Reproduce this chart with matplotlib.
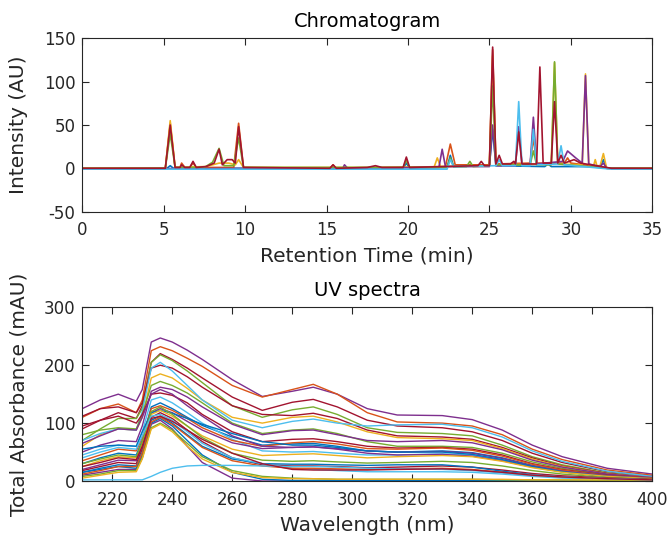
import numpy as np
import matplotlib
matplotlib.use('Agg')
import matplotlib.pyplot as plt

plt.rcParams['axes.unicode_minus'] = False

# Colores por defecto de MATLAB
MATLAB = ['#0072BD', '#D95319', '#EDB120', '#7E2F8E',
          '#77AC30', '#4DBEEE', '#A2142F']

# =============================================================================
# Cromatogramas (tiempo en min, intensidad en AU)
# =============================================================================
t_blue = [0, 5.2, 5.4, 5.6, 19.7, 19.9, 20.1, 22.4, 22.6, 22.8, 25.0, 25.2,
          25.4, 28.4, 28.6, 28.8, 31.8, 32.0, 32.2, 35]
i_blue = [-0.5, 0, 3, 0, 0, 6, 0, 1, 15, 2, 3, 45,
          3, 2, 5, 2, 2, 10, 0, -0.5]

t_orange = [0, 5.1, 5.4, 5.7, 6.0, 6.1, 6.3, 6.6, 6.8, 7.0, 9.3, 9.6, 9.9,
            15.2, 15.4, 15.6, 22.3, 22.6, 22.9, 25.0, 25.2, 25.4, 27.5,
            27.7, 27.9, 29.6, 29.8, 30.0, 32.5, 35]
i_orange = [0, 0, 52, 1, 1, 6, 1, 1, 6, 1, 1, 52, 1,
            0, 4, 0, 2, 28, 4, 4, 137, 5, 6,
            35, 6, 6, 12, 6, 0, 0]

t_yellow = [0, 5.1, 5.4, 5.7, 7.6, 8.4, 9.0, 9.4, 9.6, 9.9, 21.6, 21.8, 22.0,
            25.0, 25.2, 25.4, 28.8, 29.0, 29.2, 30.7, 30.9, 31.1, 31.4,
            31.5, 31.6, 31.8, 32.0, 32.2, 35]
i_yellow = [0, 0, 55, 1, 2, 6, 6, 4, 10, 1, 1, 12, 2,
            3, 130, 4, 5, 122, 5, 4, 109, 4, 3,
            10, 3, 3, 17, 0, 0]

t_purple = [0, 16.0, 16.1, 16.3, 21.9, 22.1, 22.3, 25.0, 25.2, 25.4, 26.6,
            26.8, 27.0, 27.5, 27.7, 27.9, 29.5, 29.8, 30.3, 30.7, 30.9,
            31.1, 31.8, 32.0, 32.2, 35]
i_purple = [-0.5, 0, 4, 0, 1, 22, 2, 2, 50, 3, 3,
            48, 4, 4, 59, 5, 8, 20, 12, 6, 107,
            5, 2, 6, 0, -0.5]

t_green = [0, 5.1, 5.4, 5.7, 7.5, 8.0, 8.4, 8.7, 9.3, 9.6, 9.9, 19.7, 19.9,
           20.1, 22.4, 22.6, 22.8, 23.6, 23.8, 24.0, 25.0, 25.2, 25.4,
           27.5, 27.7, 27.9, 28.8, 29.0, 29.2, 32.3, 35]
i_green = [0, 0, 40, 1, 1, 7, 23, 3, 3, 35, 1, 1, 9,
           1, 1, 12, 2, 2, 8, 2, 3, 95, 4,
           4, 20, 4, 4, 123, 5, 0, 0]

t_cyan = [0, 22.4, 22.6, 22.8, 25.4, 25.6, 25.8, 26.6, 26.8, 27.0, 27.5,
          27.7, 27.9, 29.2, 29.4, 29.6, 32.5, 35]
i_cyan = [-1, -1, 10, 2, 3, 10, 3, 3, 77, 3, 3,
          45, 4, 5, 26, 4, -1, -1]

t_red = [0, 5.1, 5.4, 5.7, 6.0, 6.1, 6.3, 6.6, 6.8, 7.0, 7.6, 8.1, 8.4, 8.6,
         8.9, 9.2, 9.4, 9.6, 9.9, 15.2, 15.4, 15.6, 17.5, 18.0, 18.4, 19.7,
         19.9, 20.1, 24.3, 24.5, 24.7, 25.0, 25.2, 25.4, 25.6, 25.8, 26.3,
         26.5, 26.6, 26.8, 27.0, 27.9, 28.1, 28.3, 28.8, 29.0, 29.2, 29.4,
         29.6, 30.2, 30.6, 32.5, 35]
i_red = [0, 0, 50, 1, 1, 4, 1, 1, 8, 1, 2, 6, 22, 4,
         10, 10, 6, 48, 1, 0, 4, 0, 1, 3, 1, 1,
         13, 1, 3, 8, 3, 3, 140, 5, 15, 5, 5,
         8, 5, 42, 5, 5, 117, 6, 6, 77, 6, 15,
         6, 10, 6, 0, 0]

chrom_t = [t_blue, t_orange, t_yellow, t_purple, t_green, t_cyan, t_red]
chrom_i = [i_blue, i_orange, i_yellow, i_purple, i_green, i_cyan, i_red]

# =============================================================================
# Espectros UV (longitud de onda en nm, absorbancia en mAU)
# =============================================================================
wavelength = [210, 216, 222, 228, 230, 233, 236, 240, 245, 250, 260, 270,
              280, 287, 295, 305, 315, 330, 340, 350, 360, 370, 385, 400]

# Espectros con bandas en ~285 y ~330 nm
uv_bandas = [
    [125, 140, 150, 138, 158, 240, 247, 240, 226, 210, 175, 146, 155, 162, 150, 125, 114, 113, 106, 88, 62, 42, 22, 12],
    [110, 125, 133, 118, 140, 225, 232, 225, 212, 198, 165, 145, 158, 167, 150, 118, 102, 100, 95, 80, 55, 37, 19, 10],
    [90, 105, 118, 108, 130, 205, 220, 210, 195, 178, 145, 122, 136, 141, 128, 105, 95, 92, 85, 70, 48, 32, 16, 8],
    [70, 90, 108, 108, 125, 205, 218, 208, 190, 170, 130, 110, 123, 128, 115, 92, 84, 82, 78, 62, 42, 28, 14, 7],
    [112, 125, 128, 118, 135, 195, 200, 195, 180, 162, 130, 115, 113, 117, 108, 88, 78, 76, 72, 58, 40, 26, 13, 6],
    [60, 80, 90, 88, 110, 178, 185, 178, 160, 140, 110, 100, 110, 112, 102, 85, 75, 73, 70, 56, 38, 25, 12, 6],
    [70, 82, 90, 88, 120, 195, 205, 190, 165, 140, 105, 92, 103, 107, 100, 95, 97, 98, 92, 76, 52, 34, 17, 8],
    [80, 88, 92, 90, 115, 165, 172, 165, 152, 135, 100, 82, 88, 90, 82, 68, 60, 60, 58, 48, 33, 22, 11, 5],
    [50, 62, 70, 68, 95, 155, 162, 158, 145, 128, 98, 80, 87, 88, 80, 70, 68, 70, 66, 54, 36, 24, 12, 6],
    [95, 105, 112, 100, 115, 150, 152, 148, 135, 115, 85, 68, 72, 73, 68, 60, 57, 58, 55, 45, 30, 20, 10, 5],
    [30, 40, 48, 45, 70, 128, 135, 125, 110, 96, 76, 62, 64, 65, 60, 52, 50, 52, 49, 40, 27, 18, 9, 4],
    [45, 55, 62, 60, 85, 140, 145, 135, 118, 100, 72, 52, 50, 51, 48, 45, 45, 47, 45, 36, 25, 16, 8, 4],
    [20, 28, 36, 35, 60, 118, 125, 118, 103, 88, 66, 56, 58, 59, 55, 48, 45, 46, 43, 35, 24, 16, 8, 4],
    [35, 45, 55, 52, 75, 125, 130, 122, 108, 92, 70, 60, 66, 68, 64, 56, 55, 57, 53, 43, 29, 19, 9, 5],
    [65, 78, 90, 88, 110, 150, 158, 150, 130, 112, 78, 60, 58, 59, 56, 52, 50, 51, 48, 39, 26, 17, 9, 4],
    [55, 60, 62, 60, 85, 118, 122, 117, 108, 98, 82, 68, 62, 62, 58, 52, 50, 50, 46, 37, 25, 16, 8, 4],
]
uv_bandas_color = [3, 1, 6, 4, 6, 2, 5, 4, 3, 6, 0, 5, 3, 1, 3, 0]

# Espectros de absorbancia baja / que caen después de 235 nm
uv_bajos = [
    [25, 35, 42, 40, 65, 115, 122, 112, 95, 78, 55, 44, 46, 47, 44, 40, 42, 44, 42, 34, 23, 15, 8, 4],
    [30, 38, 45, 42, 68, 120, 128, 115, 95, 75, 48, 36, 34, 35, 33, 31, 32, 34, 32, 26, 18, 12, 6, 3],
    [18, 25, 32, 30, 55, 110, 118, 108, 88, 68, 40, 28, 26, 26, 25, 23, 24, 26, 24, 19, 13, 9, 5, 3],
    [15, 22, 28, 26, 50, 105, 112, 100, 80, 60, 38, 30, 29, 29, 28, 27, 28, 28, 24, 17, 11, 7, 4, 2],
    [40, 50, 58, 55, 78, 112, 115, 105, 85, 65, 40, 30, 22, 20, 18, 16, 16, 16, 15, 12, 8, 5, 3, 2],
    [10, 15, 20, 20, 40, 98, 105, 90, 60, 32, 5, 0, 0, 0, 0, 0, 0, 0, 0, 0, 0, 0, 0, 0],
    [15, 20, 25, 22, 45, 100, 108, 95, 70, 45, 15, 3, 1, 1, 1, 1, 1, 1, 1, 1, 1, 1, 1, 1],
    [8, 12, 18, 18, 40, 92, 100, 88, 65, 42, 18, 8, 5, 4, 3, 3, 3, 3, 3, 2, 2, 2, 1, 1],
    [12, 18, 25, 25, 48, 102, 110, 98, 78, 58, 35, 26, 22, 22, 21, 20, 21, 22, 20, 15, 10, 7, 4, 2],
    [5, 10, 15, 16, 38, 90, 98, 85, 60, 38, 15, 6, 4, 4, 3, 3, 3, 3, 3, 3, 2, 2, 2, 2],
    [2, 2, 2, 2, 2, 8, 15, 22, 26, 27, 27, 26, 25, 25, 24, 22, 21, 20, 18, 14, 10, 7, 4, 2],
    [25, 32, 40, 37, 60, 108, 112, 103, 88, 72, 48, 30, 20, 19, 19, 19, 20, 21, 19, 15, 10, 7, 4, 2],
]
uv_bajos_color = [2, 4, 6, 0, 5, 3, 0, 4, 1, 2, 5, 6]


def plot_chromatogram(ax):
    for k, (t, y) in enumerate(zip(chrom_t, chrom_i)):
        ax.plot(t, y, color=MATLAB[k], lw=1.2)
    ax.set_xlim(0, 35)
    ax.set_ylim(-50, 150)
    ax.set_xticks(np.arange(0, 36, 5))
    ax.set_yticks([-50, 0, 50, 100, 150])
    ax.set_title('Chromatogram', fontsize=14, pad=8)
    ax.set_xlabel('Retention Time (min)', fontsize=14.5, labelpad=5)
    ax.set_ylabel('Intensity (AU)', fontsize=14.5, labelpad=11)


def plot_uv(ax):
    for fila, c in zip(uv_bandas, uv_bandas_color):
        ax.plot(wavelength, fila, color=MATLAB[c], lw=1.0)
    for fila, c in zip(uv_bajos, uv_bajos_color):
        ax.plot(wavelength, fila, color=MATLAB[c], lw=1.0)
    ax.set_xlim(210, 400)
    ax.set_ylim(0, 300)
    ax.set_xticks(np.arange(220, 401, 20))
    ax.set_yticks([0, 100, 200, 300])
    ax.set_title('UV spectra', fontsize=14, pad=8)
    ax.set_xlabel('Wavelength (nm)', fontsize=14.5, labelpad=5)
    ax.set_ylabel('Total Absorbance (mAU)', fontsize=14.5, labelpad=11)


def estilo_matlab(ax):
    ax.tick_params(direction='in', top=True, right=True, length=5,
                   labelsize=12, colors='#262626')
    ax.tick_params(axis='x', pad=7)
    ax.tick_params(axis='y', pad=5)
    for s in ax.spines.values():
        s.set_color('#262626')
        s.set_linewidth(0.8)


def main():
    fig = plt.figure(figsize=(6.7, 5.35), dpi=100)
    ax1 = fig.add_axes([0.1228, 0.6045, 0.8507, 0.3237])
    ax2 = fig.add_axes([0.1228, 0.1009, 0.8507, 0.3247])
    plot_chromatogram(ax1)
    plot_uv(ax2)
    for ax in (ax1, ax2):
        estilo_matlab(ax)
        ax.xaxis.label.set_color('#262626')
        ax.yaxis.label.set_color('#262626')
    fig.savefig('out.png', dpi=100)


if __name__ == '__main__':
    main()
